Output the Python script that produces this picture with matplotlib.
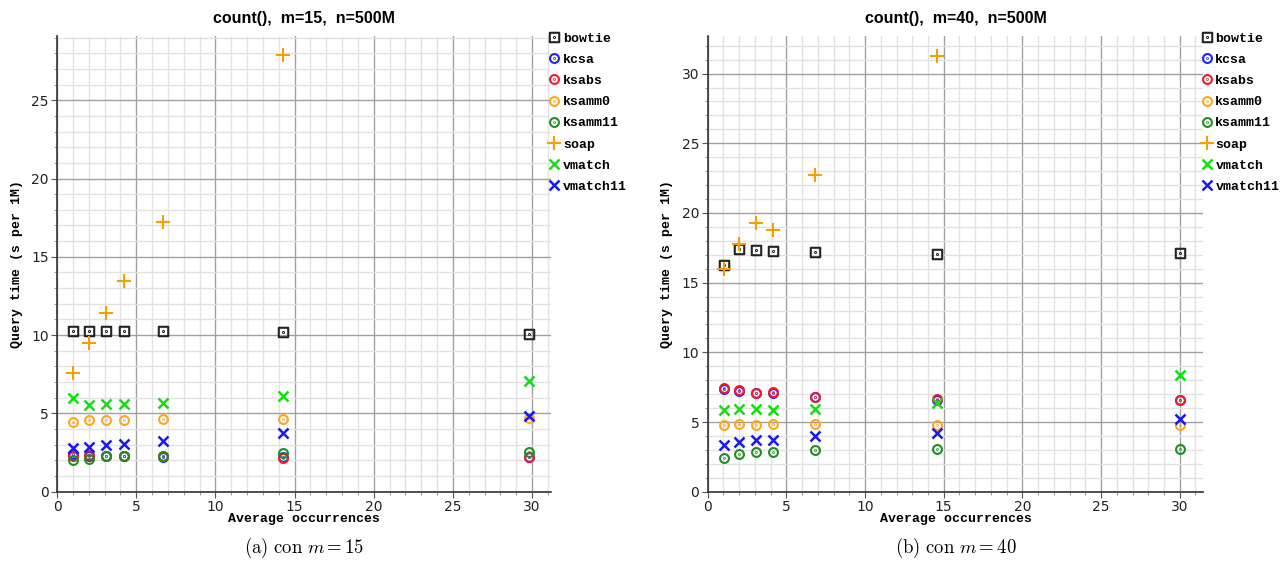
import numpy as np
import matplotlib
matplotlib.use("Agg")
import matplotlib.pyplot as plt
from matplotlib.path import Path

plt.rcParams['mathtext.fontset'] = 'cm'

series_names = ["bowtie", "kcsa", "ksabs", "ksamm0", "ksamm11", "soap", "vmatch", "vmatch11"]

# m = 15
x_m15 = [1.03, 2.05, 3.1, 4.2, 6.7, 14.3, 29.8]
m15 = {
    "bowtie":   [10.27, 10.27, 10.27, 10.27, 10.25, 10.2, 10.1],
    "kcsa":     [2.4, 2.3, 2.25, 2.25, 2.2, 2.2, 2.2],
    "ksabs":    [2.25, 2.35, 2.28, 2.28, 2.3, 2.17, 2.2],
    "ksamm0":   [4.47, 4.56, 4.56, 4.56, 4.62, 4.62, 4.7],
    "ksamm11":  [2.0, 2.1, 2.25, 2.25, 2.3, 2.45, 2.56],
    "soap":     [7.6, 9.52, 11.44, 13.46, 17.25, 27.9, np.nan],
    "vmatch":   [6.0, 5.52, 5.58, 5.58, 5.69, 6.09, 7.09],
    "vmatch11": [2.81, 2.88, 2.98, 3.07, 3.24, 3.73, 4.82],
}

# m = 40
x_m40 = [1.01, 2.0, 3.07, 4.17, 6.82, 14.56, 30.0]
m40 = {
    "bowtie":   [16.24, 17.4, 17.34, 17.27, 17.2, 17.05, 17.12],
    "kcsa":     [7.4, 7.25, 7.1, 7.05, 6.8, 6.6, 6.55],
    "ksabs":    [7.43, 7.33, 7.11, 7.18, 6.83, 6.63, 6.59],
    "ksamm0":   [4.77, 4.84, 4.77, 4.84, 4.84, 4.77, 4.77],
    "ksamm11":  [2.4, 2.71, 2.83, 2.83, 3.0, 3.04, 3.04],
    "soap":     [15.97, 17.77, 19.28, 18.8, 22.7, 31.3, np.nan],
    "vmatch":   [5.84, 5.9, 5.9, 5.84, 5.9, 6.4, 8.41],
    "vmatch11": [3.38, 3.59, 3.71, 3.71, 4.0, 4.24, 5.2],
}

titles = ["count(),  m=15,  n=500M", "count(),  m=40,  n=500M"]
captions = [r"$\mathrm{(a)\ con\ }m = 15$", r"$\mathrm{(b)\ con\ }m = 40$"]
xlabel = "Average occurrences"
ylabel = "Query time (s per 1M)"

# markers
circ_dot = Path.make_compound_path(Path.circle((0, 0), 1.0), Path.circle((0, 0), 0.08))
sq = Path([(-1, -1), (1, -1), (1, 1), (-1, 1), (-1, -1)],
          [Path.MOVETO, Path.LINETO, Path.LINETO, Path.LINETO, Path.CLOSEPOLY])
sq_dot = Path.make_compound_path(sq, Path.circle((0, 0), 0.1))

styles = {
    "bowtie":   dict(marker=sq_dot, color="#222222", ms=6.8, mew=1.5),
    "kcsa":     dict(marker=circ_dot, color="#2020ff", ms=6.4, mew=1.5),
    "ksabs":    dict(marker=circ_dot, color="#f01c2c", ms=6.4, mew=1.5),
    "ksamm0":   dict(marker=circ_dot, color="#ffa520", ms=6.4, mew=1.5),
    "ksamm11":  dict(marker=circ_dot, color="#1f8f1f", ms=6.4, mew=1.5),
    "soap":     dict(marker="+", color="#f5a000", ms=10, mew=1.5),
    "vmatch":   dict(marker="x", color="#10e010", ms=7.2, mew=1.8),
    "vmatch11": dict(marker="x", color="#1818f0", ms=7.2, mew=1.8),
}

fig = plt.figure(figsize=(12.85, 5.61), dpi=100)
ax_rects = [[57/1285, 1-491.7/561, 494/1285, 455.7/561],
            [707.7/1285, 1-491.7/561, 495.6/1285, 455.7/561]]
xlims = [31.2, 31.5]
ylims = [29.1, 32.7]
datasets = [(x_m15, m15), (x_m40, m40)]

mono = "Liberation Mono"
for i, (xs, data) in enumerate(datasets):
    ax = fig.add_axes(ax_rects[i])
    for name in series_names:
        st = styles[name]
        ax.plot(xs, data[name], linestyle="none", marker=st["marker"], markersize=st["ms"],
                markeredgewidth=st["mew"], markeredgecolor=st["color"], markerfacecolor="none",
                color=st["color"], label=name, zorder=3)
    ax.set_xlim(0, xlims[i])
    ax.set_ylim(0, ylims[i])
    ax.set_xticks(np.arange(0, 31, 5))
    ax.set_yticks(np.arange(0, ylims[i], 5))
    ax.set_xticks(np.arange(0, xlims[i], 1), minor=True)
    ax.set_yticks(np.arange(0, ylims[i], 1), minor=True)
    ax.grid(which="major", color="#a0a0a0", linewidth=1.0, zorder=1)
    ax.grid(which="minor", color="#e2e2e2", linewidth=1.0, zorder=0)
    ax.set_axisbelow(True)
    for s in ["top", "right"]:
        ax.spines[s].set_visible(False)
    for s in ["left", "bottom"]:
        ax.spines[s].set_color("#333333")
        ax.spines[s].set_linewidth(1.2)
    ax.tick_params(which="major", length=4, color="#555555", labelsize=10, pad=2)
    ax.tick_params(which="minor", length=2.5, color="#888888")
    for lab in ax.get_xticklabels() + ax.get_yticklabels():
        lab.set_fontfamily("DejaVu Sans")
        lab.set_color("#222222")
    ax.set_title(titles[i], fontsize=11.5, fontweight="bold", family="Liberation Sans", pad=9)
    ax.set_xlabel(xlabel, fontsize=9.5, fontweight="bold", family=mono, labelpad=-1)
    ax.set_ylabel(ylabel, fontsize=9.5, fontweight="bold", family=mono, labelpad=6)
    leg = ax.legend(loc="upper left", bbox_to_anchor=(0.995, 1.008), frameon=False,
                    prop=dict(family=mono, weight="bold", size=9.5),
                    handlelength=0.9, handletextpad=0.2, labelspacing=0.68,
                    borderaxespad=0, borderpad=0)
    cx = ax_rects[i][0] + ax_rects[i][2] / 2
    fig.text(cx, 1 - 548/561, captions[i], ha="center", va="center", fontsize=13.5)

fig.savefig("out.png", dpi=100)
